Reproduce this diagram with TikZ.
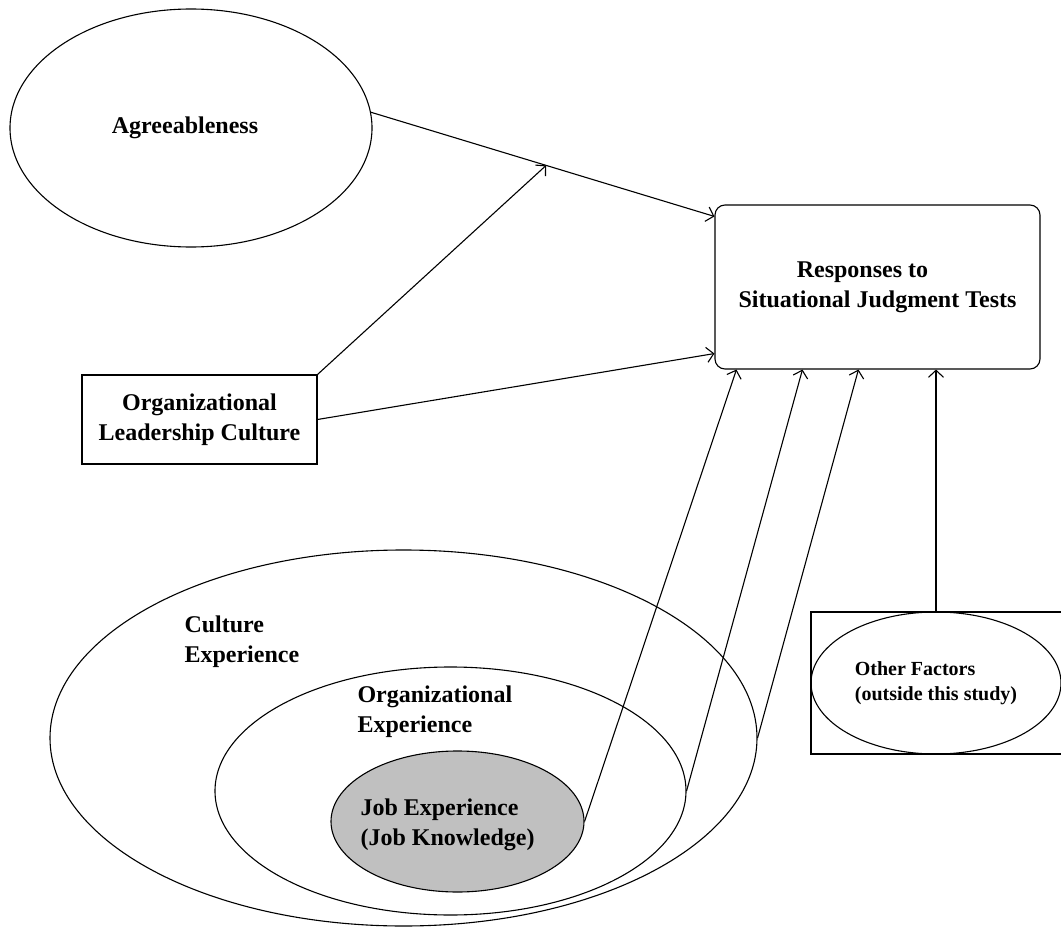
\documentclass[tikz,border=0pt]{standalone}
\usepackage{fontspec}
\setmainfont{Liberation Serif}
\usepackage{tikz}
\usetikzlibrary{calc}
\usetikzlibrary{shapes}
\usetikzlibrary{arrows.meta}

\definecolor{jobgray}{RGB}{192,192,192}

\begin{document}
\begin{tikzpicture}[x=1pt,y=-1pt,line width=1.1pt,>={Straight Barb[length=7pt,width=15pt]},
  every node/.style={font=\fontsize{24}{30}\selectfont\bfseries},
  oval/.style={ellipse,draw,inner sep=0pt},
  box/.style={rectangle,draw,inner sep=0pt},
  lbl/.style={anchor=west,align=left,inner sep=0pt}]
\useasboundingbox (0,0) rectangle (1061,928);
\node[name=agree, oval, minimum width=362pt, minimum height=238pt] at (191,128) {Agreeableness\hspace*{12pt}};
\node[name=resp, box, rounded corners=10pt, minimum width=325pt, minimum height=164pt, align=center] at (877.5,287) {Responses to\hspace*{30pt}\\Situational Judgment Tests};
\node[name=olc, box, minimum width=235pt, minimum height=89pt, align=center] at (199.5,419.5) {Organizational\\Leadership Culture};
\node[name=culture, oval, minimum width=707pt, minimum height=376pt] at (403.5,738) {};
\node[name=orgexp, oval, minimum width=471pt, minimum height=248pt] at (450.5,791) {};
\node[name=job, oval, fill=jobgray, minimum width=253pt, minimum height=141pt] at (457.5,821.5) {};
\node[name=culturelbl, lbl] at (184,642) {Culture\\Experience};
\node[name=orglbl, lbl] at (357,712) {Organizational\\Experience};
\node[name=joblbl, lbl] at (360,825) {Job Experience\\(Job Knowledge)};
\node[name=otherbox, box, minimum width=300pt, minimum height=142pt] at (961,683) {};
\node[name=other, oval, minimum width=250pt, minimum height=142pt, align=left, font=\fontsize{20}{25}\selectfont\bfseries] at (936,683) {Other Factors\\(outside this study)};

% arrow ends on the response box
\coordinate (respA) at ($(resp.north west)+(0,12)$);
\coordinate (respB) at ($(resp.south west)+(0,-16)$);
\coordinate (respJ) at ($(resp.south west)+(22,0)$);
\coordinate (respO) at ($(resp.south west)+(88,0)$);
\coordinate (respC) at ($(resp.south west)+(144,0)$);
\coordinate (respF) at (other.north |- resp.south);
\coordinate (modpt) at ($(agree.5)!0.51!(respA)$);

\draw(agree.5) edge[->](respA);
\draw(olc.north east) edge[->](modpt);
\draw(olc.east) edge[->](respB);
\draw(job.east) edge[->](respJ);
\draw(orgexp.east) edge[->](respO);
\draw(culture.east) edge[->](respC);
\draw(other.north) edge[->](respF);
\end{tikzpicture}
\end{document}
